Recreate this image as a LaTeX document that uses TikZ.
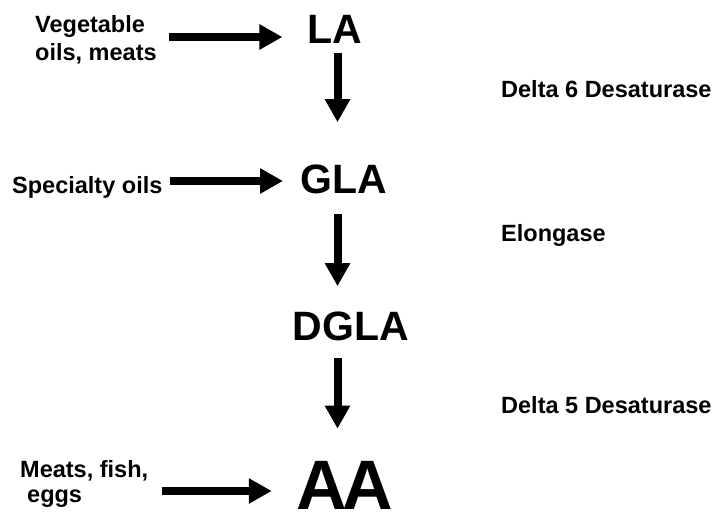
\documentclass[tikz,border=0pt]{standalone}
\usepackage{fontspec}
\setmainfont{Liberation Sans}
\usetikzlibrary{arrows.meta}
\usetikzlibrary{positioning}

\tikzset{
  acid/.style={font=\fontsize{41}{41}\selectfont\bfseries, inner sep=0pt, anchor=base},
  source/.style={font=\fontsize{23.5}{28}\selectfont\bfseries, inner sep=0pt, anchor=base west, align=left},
  enzyme/.style={font=\fontsize{23.5}{23.5}\selectfont\bfseries, inner sep=0pt, anchor=base west},
  fatarrow/.style={line width=8pt, -{Triangle[length=23pt,width=24pt]}}
}

\begin{document}
\begin{tikzpicture}[x=1pt,y=-1pt]
      \useasboundingbox (0,0) rectangle (717,514);
      \node[acid] (la) at (335,43) {LA};
      \node[acid] (gla) at (343.5,193) {GLA};
      \node[acid] (dgla) at (351,340) {DGLA};
      \node[acid,font=\fontsize{70}{70}\selectfont\bfseries] (aa) at (345,509) {A\kern-5pt A};
      % multi-line nodes sit on the baseline of their last line
      \node[source] (veg) at (35,60) {Vegetable\\oils, meats};
      \node[source] (spec) at (12,193) {Specialty oils};
      \node[source,font=\fontsize{23.5}{25}\selectfont\bfseries] (meat) at (20,502) {Meats, fish,\\\hspace{7pt}eggs};
      \node[enzyme] (d6) at (501,97) {Delta 6 Desaturase};
      \node[enzyme] (elo) at (501,241) {Elongase};
      \node[enzyme] (d5) at (501,413) {Delta 5 Desaturase};
      % rows of the side arrows, column of the main chain
      \coordinate (row1) at (0,37);
      \coordinate (row2) at (0,181);
      \coordinate (row3) at (0,491);
      \coordinate (col) at (337.5,0);
      \draw[fatarrow,shorten <=12pt,shorten >=25pt] (veg.east |- row1) -- (la.west |- row1);
      \draw[fatarrow,shorten <=7pt,shorten >=17pt] (spec.east |- row2) -- (gla.west |- row2);
      \draw[fatarrow,shorten <=14pt,shorten >=25pt] (meat.east |- row3) -- (aa.west |- row3);
      \draw[fatarrow,shorten <=10pt,shorten >=42pt] (la.south -| col) -- (gla.north -| col);
      \draw[fatarrow,shorten <=20pt,shorten >=25pt] (gla.south -| col) -- (dgla.north -| col);
      \draw[fatarrow,shorten <=17pt,shorten >=32pt] (dgla.south -| col) -- (aa.north -| col);
    \end{tikzpicture}
\end{document}
